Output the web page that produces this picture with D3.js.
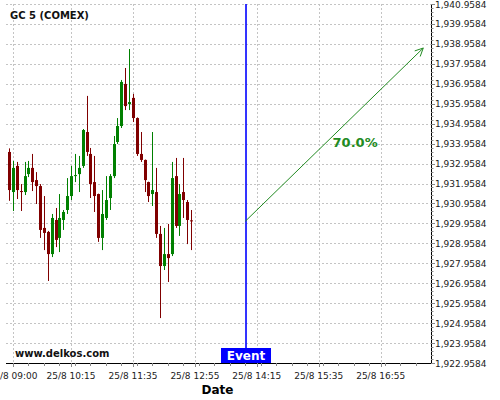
<!DOCTYPE html>
<html>
<head>
<meta charset="utf-8">
<script src="https://cdn.jsdelivr.net/npm/d3@7"></script>
<style>
  body { margin: 0; background: #fff; }
  svg { display: block; font-family: "DejaVu Sans", sans-serif; }
</style>
</head>
<body>
<div id="chart"></div>
<script>
// 5-minute candles, 25/8
const times = ['08:55','09:00','09:05','09:10','09:15','09:20','09:25','09:30','09:35','09:40',
  '09:45','09:50','09:55','10:00','10:05','10:10','10:15','10:20','10:25','10:30',
  '10:35','10:40','10:45','10:50','10:55','11:00','11:05','11:10','11:15','11:20',
  '11:25','11:30','11:35','11:40','11:45','11:50','11:55','12:00','12:05','12:10',
  '12:15','12:20','12:25','12:30','12:35','12:40','12:45','12:50'];
const opens = [1933.54,1931.53,1932.84,1931.58,1931.53,1932.43,1932.74,1932.13,1931.83,1929.73,
  1929.53,1928.42,1930.13,1929.23,1930.13,1930.63,1931.33,1932.33,1932.43,1932.84,
  1934.54,1933.44,1932.03,1931.43,1929.23,1930.23,1931.23,1932.33,1934.04,1934.84,
  1936.95,1935.94,1936.25,1935.24,1933.44,1933.14,1932.03,1931.43,1931.53,1929.43,
  1927.82,1928.42,1928.42,1932.33,1929.83,1931.53,1931.03,1930.11];
const highs = [1933.72,1933.09,1933.04,1931.93,1933.04,1933.09,1933.44,1932.53,1931.93,1931.33,
  1929.58,1930.43,1930.73,1931.43,1930.63,1932.23,1932.84,1933.44,1933.34,1934.69,
  1936.35,1933.74,1933.34,1931.45,1931.63,1932.33,1932.43,1934.34,1935.24,1937.15,
  1937.75,1938.70,1936.45,1935.27,1934.54,1933.16,1932.05,1934.54,1932.74,1929.83,
  1929.73,1929.93,1933.04,1933.24,1931.93,1933.24,1931.13,1930.63];
const lows = [1931.09,1930.58,1931.18,1930.58,1931.38,1932.28,1931.58,1930.93,1929.23,1928.62,
  1927.07,1928.27,1928.77,1928.52,1929.63,1930.43,1931.13,1932.03,1931.53,1932.74,
  1933.34,1931.23,1930.53,1929.03,1928.62,1930.13,1930.63,1932.23,1933.94,1934.74,
  1935.64,1935.64,1935.04,1933.34,1933.04,1931.53,1931.03,1930.83,1929.23,1925.21,
  1927.62,1927.02,1928.32,1929.73,1929.33,1930.23,1928.92,1928.62];
const closes = [1931.63,1932.74,1931.63,1931.55,1932.33,1932.74,1932.03,1931.83,1929.63,1929.48,
  1928.42,1930.23,1929.13,1930.23,1930.53,1931.33,1932.33,1932.38,1932.74,1934.64,
  1933.54,1931.93,1931.33,1929.23,1930.43,1931.13,1932.33,1933.94,1934.84,1937.05,
  1935.84,1936.04,1935.24,1933.44,1933.14,1932.13,1931.33,1931.63,1929.43,1927.82,
  1928.42,1928.22,1932.23,1929.83,1931.43,1931.13,1930.13,1930.06];

const xTickLabels = ['09:00','10:15','11:35','12:55','14:15','15:35','16:55'];
const yTickValues = [1922.9584,1923.9584,1924.9584,1925.9584,1926.9584,1927.9584,1928.9584,
  1929.9584,1930.9584,1931.9584,1932.9584,1933.9584,1934.9584,1935.9584,1936.9584,
  1937.9584,1938.9584,1939.9584,1940.9584];

const eventTime = '14:00';
const forecastEnd = { time: '17:50', value: 1938.75 };
const forecastLabel = '70.0%';
const forecastLabelAt = { time: '16:22', value: 1934.04 };

const W = 500, H = 400;
const plot = { left: 6, right: 431, top: 4, bottom: 363 };
const day = (hm) => { const [h, m] = hm.split(':').map(Number); return new Date(2023, 7, 25, h, m); };

const x = d3.scaleTime().domain([day('08:51'), day('18:00')]).range([plot.left, plot.right]);
const y = d3.scaleLinear().domain([1922.9584, 1940.9584]).range([plot.bottom, plot.top]);

const svg = d3.select('#chart').append('svg').attr('width', W).attr('height', H);

// grid
const grid = svg.append('g').attr('stroke', '#c4c4c4').attr('stroke-dasharray', '2,2').attr('stroke-width', 1);
grid.selectAll('line.h').data(yTickValues).join('line')
  .attr('x1', plot.left).attr('x2', plot.right)
  .attr('y1', (d) => Math.round(y(d)) + 0.5).attr('y2', (d) => Math.round(y(d)) + 0.5);
grid.selectAll('line.v').data(xTickLabels).join('line')
  .attr('x1', (d) => Math.round(x(day(d))) + 0.5).attr('x2', (d) => Math.round(x(day(d))) + 0.5)
  .attr('y1', plot.top).attr('y2', plot.bottom);

// candles
const candles = times.map((t, i) => ({ t: day(t), o: opens[i], h: highs[i], l: lows[i], c: closes[i] }));
const up = '#008000', down = '#800000';
const cg = svg.append('g').selectAll('g').data(candles).join('g');
cg.append('line')
  .attr('x1', (d) => Math.round(x(d.t)) + 0.5).attr('x2', (d) => Math.round(x(d.t)) + 0.5)
  .attr('y1', (d) => y(d.h)).attr('y2', (d) => y(d.l))
  .attr('stroke', (d) => (d.c >= d.o ? up : down)).attr('stroke-width', 1);
cg.append('rect')
  .attr('x', (d) => Math.round(x(d.t)) - 1)
  .attr('width', 3)
  .attr('y', (d) => y(Math.max(d.o, d.c)))
  .attr('height', (d) => Math.max(1, Math.abs(y(d.o) - y(d.c))))
  .attr('fill', (d) => (d.c >= d.o ? up : down));

// event line
const ex = x(day(eventTime)) + 0.8;
svg.append('line').attr('x1', ex).attr('x2', ex).attr('y1', plot.top).attr('y2', plot.bottom)
  .attr('stroke', '#0000ff').attr('stroke-width', 1.6);

// forecast arrow
const green = '#228b22';
const last = candles[candles.length - 1];
const ax1 = x(day(eventTime)), ay1 = y(last.c);
const ax2 = x(day(forecastEnd.time)), ay2 = y(forecastEnd.value);
svg.append('line').attr('x1', ax1).attr('y1', ay1).attr('x2', ax2).attr('y2', ay2)
  .attr('stroke', green).attr('stroke-width', 1);
const ang = Math.atan2(ay2 - ay1, ax2 - ax1);
[Math.PI - 0.45, Math.PI + 0.45].forEach((a) => {
  svg.append('line').attr('x1', ax2).attr('y1', ay2)
    .attr('x2', ax2 + 9 * Math.cos(ang + a)).attr('y2', ay2 + 9 * Math.sin(ang + a))
    .attr('stroke', green).attr('stroke-width', 1);
});
svg.append('text').attr('x', x(day(forecastLabelAt.time))).attr('y', y(forecastLabelAt.value) + 5)
  .attr('text-anchor', 'middle').attr('font-size', 13).attr('font-weight', 'bold')
  .attr('fill', green).text(forecastLabel);

// axes
const yAxis = svg.append('g');
yAxis.append('line').attr('x1', plot.right + 0.5).attr('x2', plot.right + 0.5)
  .attr('y1', plot.top).attr('y2', plot.bottom + 1).attr('stroke', '#000');
const yMinor = d3.range(0, 91).map((i) => 1922.9584 + i * 0.2);
yAxis.selectAll('line.mn').data(yMinor).join('line')
  .attr('x1', plot.right).attr('x2', plot.right + 2.5)
  .attr('y1', (d) => Math.round(y(d)) + 0.5).attr('y2', (d) => Math.round(y(d)) + 0.5)
  .attr('stroke', '#888');
yAxis.selectAll('line.mj').data(yTickValues).join('line')
  .attr('x1', plot.right).attr('x2', plot.right + 4)
  .attr('y1', (d) => Math.round(y(d)) + 0.5).attr('y2', (d) => Math.round(y(d)) + 0.5)
  .attr('stroke', '#888');
yAxis.selectAll('text').data(yTickValues).join('text')
  .attr('x', plot.right + 4).attr('y', (d) => y(d) + 3.5)
  .attr('font-size', 9).attr('fill', '#222').text(d3.format(',.4f'));

const xAxis = svg.append('g');
xAxis.append('line').attr('x1', plot.left).attr('x2', plot.right)
  .attr('y1', plot.bottom + 0.5).attr('y2', plot.bottom + 0.5).attr('stroke', '#000');
const xMinor = d3.timeMinute.every(20).range(day('08:40'), day('18:00'));
xAxis.selectAll('line.mn').data(xMinor.filter((d) => x(d) >= plot.left)).join('line')
  .attr('x1', (d) => Math.round(x(d)) + 0.5).attr('x2', (d) => Math.round(x(d)) + 0.5)
  .attr('y1', plot.bottom).attr('y2', plot.bottom + 3).attr('stroke', '#888');
xAxis.selectAll('line.mj').data(xTickLabels).join('line')
  .attr('x1', (d) => Math.round(x(day(d))) + 0.5).attr('x2', (d) => Math.round(x(day(d))) + 0.5)
  .attr('y1', plot.bottom).attr('y2', plot.bottom + 4).attr('stroke', '#888');
xAxis.selectAll('text').data(xTickLabels).join('text')
  .attr('x', (d) => x(day(d))).attr('y', plot.bottom + 16)
  .attr('text-anchor', 'middle').attr('font-size', 9).attr('fill', '#222')
  .text((d) => '25/8 ' + d);

svg.append('text').attr('x', (plot.left + plot.right) / 2 - 1).attr('y', 394)
  .attr('text-anchor', 'middle').attr('font-size', 12).attr('font-weight', 'bold').text('Date');

// event tag
svg.append('rect').attr('x', ex - 25).attr('y', plot.bottom - 15).attr('width', 50).attr('height', 15)
  .attr('fill', '#0000ff');
svg.append('text').attr('x', ex).attr('y', plot.bottom - 3).attr('text-anchor', 'middle')
  .attr('font-size', 12).attr('font-weight', 'bold').attr('fill', '#fff').text('Event');

// titles
svg.append('text').attr('x', 10).attr('y', 19).attr('font-size', 10).attr('font-weight', 'bold')
  .attr('fill', '#111').text('GC 5 (COMEX)');
svg.append('text').attr('x', 15).attr('y', 357).attr('font-size', 10).attr('font-weight', 'bold')
  .attr('fill', '#111').text('www.delkos.com');
</script>
</body>
</html>
